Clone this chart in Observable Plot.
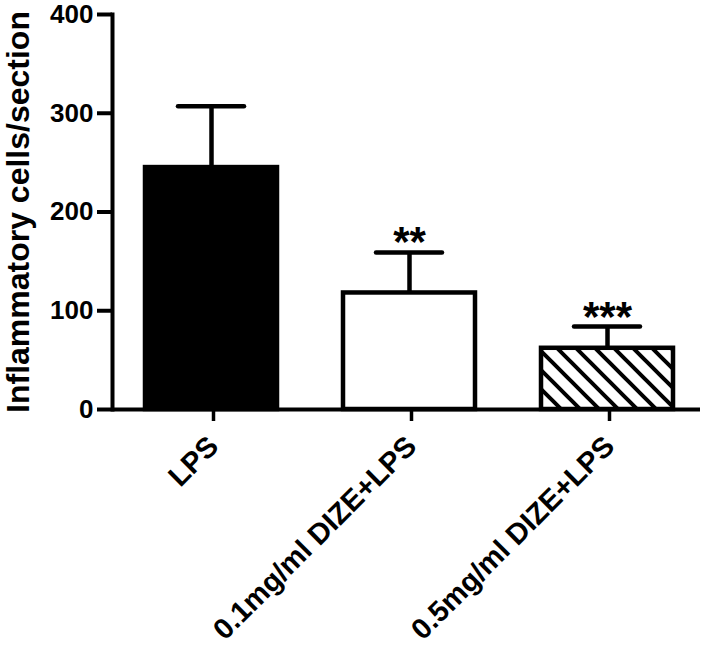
<!DOCTYPE html>
<html>
<head>
<meta charset="utf-8">
<script src="https://cdn.jsdelivr.net/npm/d3@7"></script>
<script src="https://cdn.jsdelivr.net/npm/@observablehq/plot@0.6"></script>
<style>
  html, body { margin: 0; padding: 0; background: white; }
  svg { font-family: "Liberation Sans", Arial, sans-serif; }
</style>
</head>
<body>
<div id="chart"></div>
<script>
const groups = ["LPS", "0.1mg/ml DIZE+LPS", "0.5mg/ml DIZE+LPS"];
const means = [245, 118, 62];
const upperErrors = [62, 41, 22];
const stars = ["", "**", "***"];
const fills = ["black", "white", "url(#hatch)"];
const yTicks = [0, 100, 200, 300, 400];
const yLabel = "Inflammatory cells/section";

const data = groups.map((g, i) => ({
  group: g, mean: means[i], top: means[i] + upperErrors[i], star: stars[i], fill: fills[i]
}));

const chart = Plot.plot({
  width: 712,
  height: 652,
  marginTop: 14,
  marginLeft: 112,
  marginRight: 12,
  marginBottom: 243,
  style: { fontFamily: "'Liberation Sans', Arial, sans-serif", background: "white" },
  x: { domain: groups, range: [124, 694], paddingInner: 0.335, paddingOuter: 0.1 },
  y: { domain: [0, 400] },
  color: { type: "identity" },
  marks: [
    Plot.ruleX(data, { x: "group", y1: "mean", y2: "top", stroke: "black", strokeWidth: 4.5 }),
    Plot.barY(data, { x: "group", y: "mean", fill: "fill", stroke: "black", strokeWidth: 4.5 }),
    Plot.tickY(data, { x: "group", y: "top", stroke: "black", strokeWidth: 4.5, strokeLinecap: "round", insetLeft: 33, insetRight: 33 }),
    Plot.text(data, { x: "group", y: "top", text: "star", fontSize: 42, fontWeight: "bold", lineAnchor: "bottom", dy: 4, fill: "black" }),
    Plot.axisY({ ticks: yTicks, tickSize: 15, strokeWidth: 4, tickPadding: 4, fontSize: 26, fontWeight: "bold", label: null, fill: "black" }),
    Plot.axisX({ tickSize: 12, strokeWidth: 3.5, tickRotate: -45, tickPadding: 20, dx: 2, fontSize: 29, fontWeight: "bold", label: null, fill: "black" }),
    Plot.frame({ anchor: "left", strokeWidth: 4, stroke: "black" }),
    Plot.ruleY([0], { strokeWidth: 4, stroke: "black" }),
    Plot.text([yLabel], { frameAnchor: "left", textAnchor: "middle", rotate: -90, dx: -94, fontSize: 32, fontWeight: "bold", fill: "black" })
  ]
});

const defs = document.createElementNS("http://www.w3.org/2000/svg", "defs");
defs.innerHTML = `<pattern id="hatch" patternUnits="userSpaceOnUse" width="19" height="19">
  <rect width="19" height="19" fill="white"/>
  <path d="M-3,-3 L22,22 M-3,16 L3,22 M16,-3 L22,3" stroke="black" stroke-width="4"/>
</pattern>`;
chart.insertBefore(defs, chart.firstChild);
document.getElementById("chart").appendChild(chart);
</script>
</body>
</html>
